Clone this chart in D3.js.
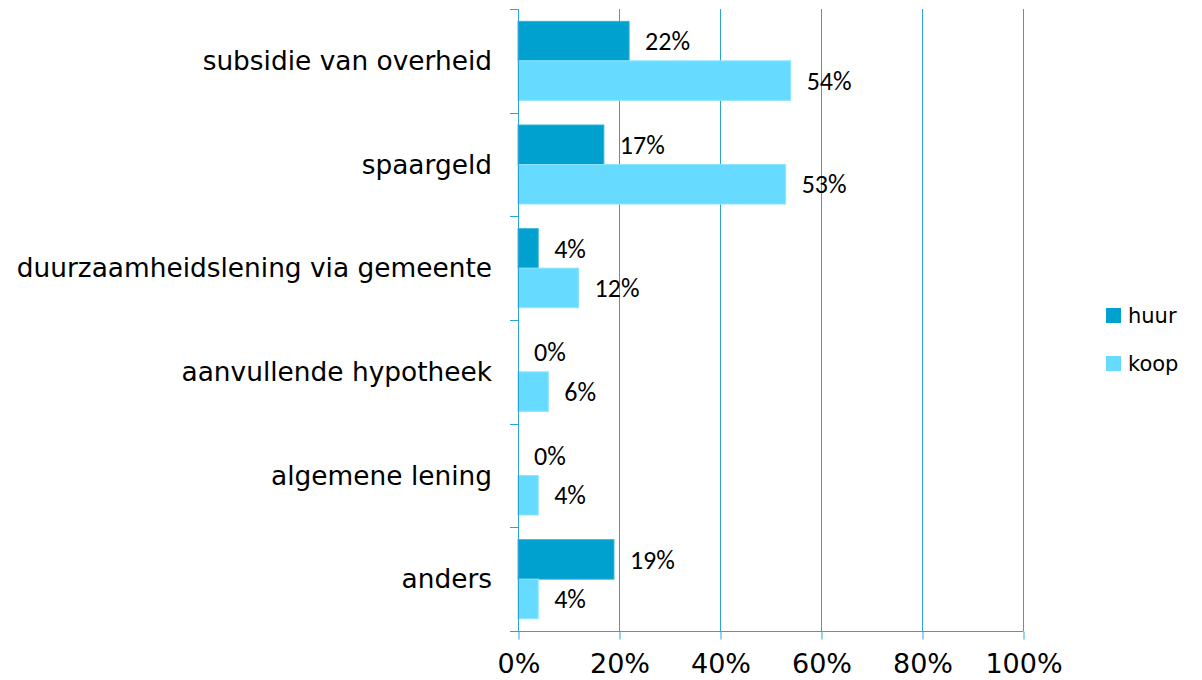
<!DOCTYPE html>
<html>
<head>
<meta charset="utf-8">
<script src="https://cdn.jsdelivr.net/npm/d3@7"></script>
<style>
  html, body { margin: 0; padding: 0; background: #fff; }
  svg { display: block; }
  .cat { font-family: Verdana, "DejaVu Sans", sans-serif; font-size: 26.4px; fill: #000; }
  .tick-lbl { font-family: Verdana, "DejaVu Sans", sans-serif; font-size: 27px; fill: #000; }
  .val { font-family: Carlito, Calibri, "Open Sans", sans-serif; font-size: 26px; fill: #000; }
  .leg { font-family: Verdana, "DejaVu Sans", sans-serif; font-size: 21px; fill: #000; }
</style>
</head>
<body>
<svg id="chart" width="1202" height="680"></svg>
<script>
// categories top to bottom, values in %
const categories = [
  "subsidie van overheid",
  "spaargeld",
  "duurzaamheidslening via gemeente",
  "aanvullende hypotheek",
  "algemene lening",
  "anders",
];
const huur = [22, 17, 4, 0, 0, 19];
const koop = [54, 53, 12, 6, 4, 4];
const series = ["huur", "koop"];
const xTicks = [0, 20, 40, 60, 80, 100];

const COLORS = { huur: "#00a0cf", koop: "#66dbff" };
const STROKES = { huur: "#33b3da", koop: "#8ce4ff" };
const AXIS = "#2aa5d6";

const svg = d3.select("#chart");
const M = { left: 518, right: 1023, top: 9, bottom: 631 };

const x = d3.scaleLinear().domain([0, 100]).range([M.left, M.right]);
const y = d3.scaleBand().domain(categories).range([M.top, M.bottom])
  .paddingInner(0.238).paddingOuter(0.119);
const ySub = d3.scaleBand().domain(series).range([0, y.bandwidth()]);

// gridlines
svg.append("g").selectAll("line")
  .data(xTicks.filter((t) => t > 0))
  .join("line")
  .attr("x1", (d) => x(d) + 0.5).attr("x2", (d) => x(d) + 0.5)
  .attr("y1", M.top).attr("y2", M.bottom)
  .attr("stroke", AXIS).attr("stroke-width", 1);

// bars
const rows = categories.map((c, i) => ({ cat: c, huur: huur[i], koop: koop[i] }));
const grp = svg.append("g").selectAll("g")
  .data(rows).join("g")
  .attr("transform", (d) => `translate(0,${y(d.cat)})`);

grp.selectAll("rect")
  .data((d) => series.map((k) => ({ key: k, v: d[k] })))
  .join("rect")
  .attr("x", x(0))
  .attr("y", (d) => ySub(d.key))
  .attr("width", (d) => x(d.v) - x(0))
  .attr("height", ySub.bandwidth())
  .attr("fill", (d) => COLORS[d.key])
  .attr("stroke", (d) => (d.v > 0 ? STROKES[d.key] : "none"))
  .attr("stroke-width", 1);

grp.selectAll("text.val")
  .data((d) => series.map((k) => ({ key: k, v: d[k] })))
  .join("text")
  .attr("class", "val")
  .attr("x", (d) => x(d.v) + 16)
  .attr("y", (d) => ySub(d.key) + ySub.bandwidth() / 2)
  .attr("dy", "0.35em")
  .text((d) => d.v + "%");

// y axis
const yAx = svg.append("g");
yAx.append("line")
  .attr("x1", M.left + 0.5).attr("x2", M.left + 0.5)
  .attr("y1", M.top).attr("y2", M.bottom)
  .attr("stroke", AXIS);
const yTickPos = categories.map((c) => y(c) - y.step() * y.paddingOuter());
yTickPos.push(M.bottom);
yAx.selectAll("line.tk").data(yTickPos).join("line")
  .attr("class", "tk")
  .attr("x1", M.left - 8).attr("x2", M.left)
  .attr("y1", (d) => Math.round(d) + 0.5).attr("y2", (d) => Math.round(d) + 0.5)
  .attr("stroke", AXIS);
yAx.selectAll("text").data(categories).join("text")
  .attr("class", "cat")
  .attr("x", M.left - 26)
  .attr("y", (d) => y(d) + y.bandwidth() / 2)
  .attr("dy", "0.35em")
  .attr("text-anchor", "end")
  .text((d) => d);

// x axis
const xAxis = d3.axisBottom(x).tickValues(xTicks)
  .tickFormat((d) => d + "%").tickSize(8).tickPadding(14);
const xg = svg.append("g")
  .attr("transform", `translate(0.5,${M.bottom + 0.5})`)
  .call(xAxis);
xg.attr("font-family", null).attr("font-size", null);
xg.select(".domain").attr("stroke", AXIS).attr("d", `M${M.left - 8.5},0H${M.right}`);
xg.selectAll(".tick line").attr("stroke", AXIS);
xg.selectAll(".tick text").attr("class", "tick-lbl").attr("fill", "#000");

// legend
const leg = svg.append("g").attr("transform", "translate(1106,308)");
leg.selectAll("rect").data(series).join("rect")
  .attr("x", 0).attr("y", (d, i) => i * 48)
  .attr("width", 15).attr("height", 15)
  .attr("fill", (d) => COLORS[d]);
leg.selectAll("text").data(series).join("text")
  .attr("class", "leg")
  .attr("x", 22).attr("y", (d, i) => i * 48 + 7.5)
  .attr("dy", "0.35em")
  .text((d) => d);
</script>
</body>
</html>
